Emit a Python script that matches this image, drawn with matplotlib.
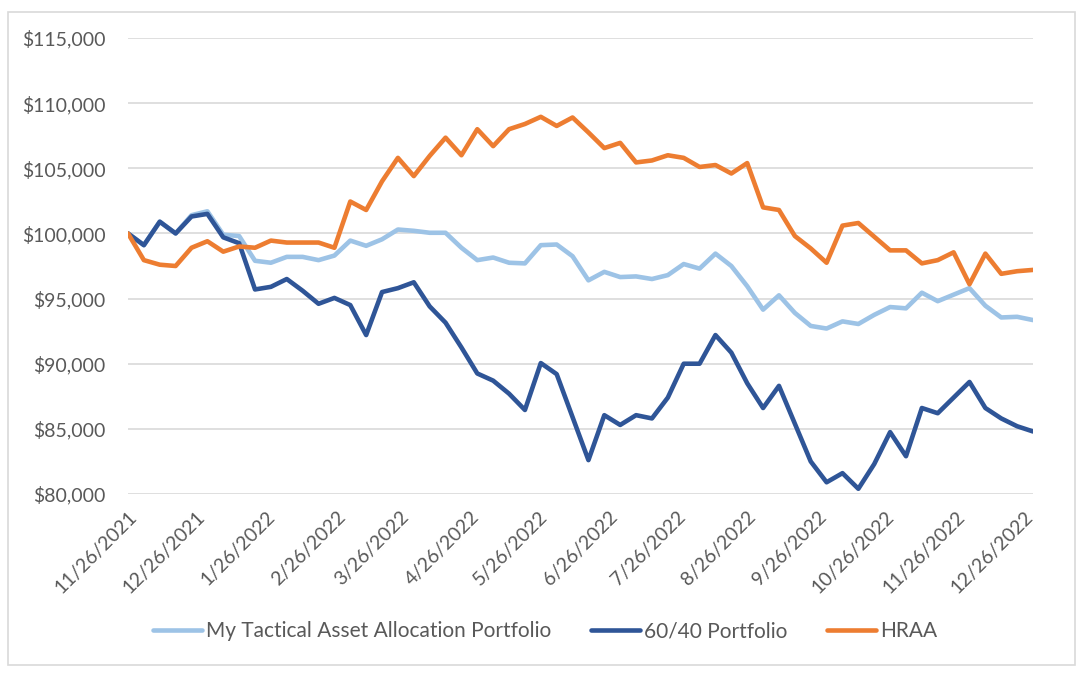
import matplotlib
matplotlib.use("Agg")
import matplotlib.pyplot as plt
from matplotlib.patches import Rectangle
from matplotlib.ticker import FuncFormatter
import pandas as pd

plt.rcParams['font.family'] = ['Lato', 'DejaVu Sans']

# Weekly values, 11/26/2021 .. 12/30/2022
dates = pd.date_range("2021-11-26", periods=58, freq="7D")

taa = [100000, 99100, 100900, 100000, 101400, 101700, 99900, 99800, 97900, 97750,
       98200, 98200, 97950, 98300, 99450, 99050, 99550, 100300, 100200, 100050,
       100050, 98900, 97950, 98150, 97750, 97700, 99100, 99150, 98250, 96400,
       97050, 96650, 96700, 96500, 96800, 97650, 97300, 98450, 97500, 95950,
       94150, 95250, 93900, 92900, 92700, 93250, 93050, 93750, 94350, 94250,
       95450, 94800, 95300, 95800, 94450, 93550, 93600, 93350]

sixty_forty = [100000, 99100, 100900, 100000, 101300, 101500, 99700, 99250, 95700, 95900,
               96500, 95600, 94600, 95050, 94500, 92200, 95500, 95800, 96250, 94400,
               93150, 91250, 89250, 88700, 87700, 86450, 90050, 89200, 85900, 82600,
               86050, 85300, 86050, 85800, 87400, 90000, 90000, 92200, 90850, 88500,
               86600, 88300, 85400, 82500, 80900, 81600, 80400, 82300, 84750, 82900,
               86600, 86200, 87400, 88600, 86600, 85800, 85200, 84800]

hraa = [100000, 97950, 97600, 97500, 98900, 99400, 98600, 99000, 98900, 99450,
        99300, 99300, 99300, 98900, 102450, 101800, 104000, 105800, 104400, 105950,
        107350, 106000, 108000, 106700, 108000, 108400, 108950, 108250, 108900, 107750,
        106550, 106950, 105450, 105600, 106000, 105800, 105100, 105250, 104600, 105400,
        102000, 101800, 99800, 98850, 97750, 100600, 100800, 99750, 98700, 98700,
        97700, 97950, 98550, 96100, 98450, 96900, 97100, 97200]

tick_labels = ["11/26/2021", "12/26/2021", "1/26/2022", "2/26/2022", "3/26/2022",
               "4/26/2022", "5/26/2022", "6/26/2022", "7/26/2022", "8/26/2022",
               "9/26/2022", "10/26/2022", "11/26/2022", "12/26/2022"]

series_names = ["My Tactical Asset Allocation Portfolio", "60/40 Portfolio", "HRAA"]
colors = ["#9DC3E6", "#2F5597", "#ED7D31"]

fig = plt.figure(figsize=(10.8, 6.75), dpi=100)
ax = fig.add_axes([128 / 1080, 1 - 494 / 675, (1033 - 128) / 1080, (494 - 38) / 675])

# outer chart border like Excel
fig.patches.append(Rectangle((8 / 1080, 1 - 665 / 675), (1075 - 8) / 1080, (665 - 12) / 675,
                             transform=fig.transFigure, fill=False,
                             edgecolor="#D9D9D9", linewidth=1.2))

ax.plot(dates, taa, color=colors[0], lw=3.3, label=series_names[0], solid_capstyle="round", zorder=3)
ax.plot(dates, sixty_forty, color=colors[1], lw=3.3, label=series_names[1], solid_capstyle="round", zorder=4)
ax.plot(dates, hraa, color=colors[2], lw=3.3, label=series_names[2], solid_capstyle="round", zorder=5)

ax.set_ylim(80000, 115000)
ax.set_yticks(range(80000, 115001, 5000))
ax.yaxis.set_major_formatter(FuncFormatter(lambda v, p: "${:,.0f}".format(v)))
ax.set_xlim(dates[0], dates[-1])

tick_dates = pd.to_datetime(tick_labels, format="%m/%d/%Y")
ax.set_xticks(tick_dates)
ax.set_xticklabels(tick_labels, rotation=45, ha="right", va="top", rotation_mode="anchor")

ax.grid(axis="y", color="#D9D9D9", linewidth=1.2)
ax.set_axisbelow(True)
for s in ax.spines.values():
    s.set_visible(False)
ax.tick_params(axis="both", length=0, labelsize=14, labelcolor="#595959")
ax.tick_params(axis="y", pad=16)
ax.tick_params(axis="x", pad=10)

fig.legend(loc="center", bbox_to_anchor=(545 / 1080, 1 - 631 / 675), ncol=3, frameon=False,
           fontsize=15, labelcolor="#595959", handlelength=2.35, handletextpad=0.2,
           columnspacing=1.9)

fig.savefig("out.png", dpi=100)
